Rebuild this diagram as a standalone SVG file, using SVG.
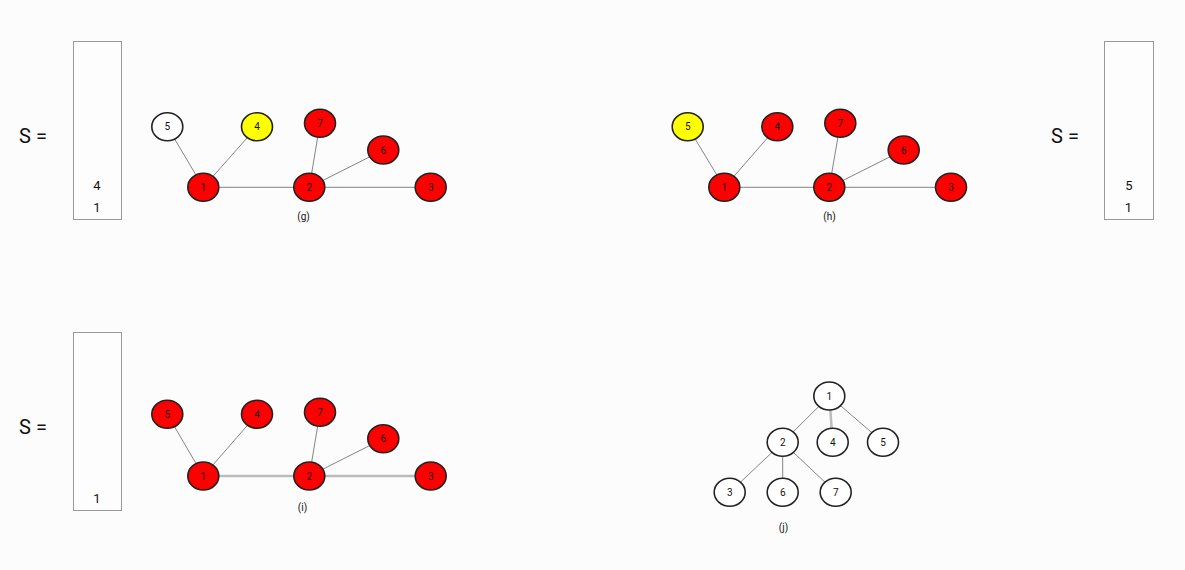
<svg xmlns="http://www.w3.org/2000/svg" width="1185" height="570" viewBox="0 0 1185 570">
<style>
text{font-family:Roboto,"Liberation Sans",sans-serif;fill:#111;text-anchor:middle;dominant-baseline:central}
.n ellipse{stroke:#222;stroke-width:1.6}
.r{fill:#ff0000}.w{fill:#fff}.y{fill:#ffff00}
.n text{font-size:10px}
.e line{stroke:#777;stroke-width:0.9}
.e line.t{stroke:#bbb;stroke-width:2.5}
.box{fill:#fdfdfd;stroke:#999;stroke-width:1}
.seq{font-size:20px}
.stk{font-size:13px}
.cap{font-size:10px}
</style>
<rect width="1185" height="570" fill="#fcfcfc"/>

<!-- Panel g -->
<text class="seq" x="33" y="136">S =</text>
<rect class="box" x="73.5" y="41.5" width="48" height="178"/>
<text class="stk" x="97" y="185.5">4</text>
<text class="stk" x="97" y="207">1</text>
<g class="e" id="edges-g">
<line x1="167.3" y1="126.7" x2="203.3" y2="187.3"/>
<line x1="257" y1="126.7" x2="203.3" y2="187.3"/>
<line x1="203.3" y1="187.3" x2="309.3" y2="187.3"/>
<line x1="320" y1="123.3" x2="309.3" y2="187.3"/>
<line x1="383.3" y1="150" x2="309.3" y2="187.3"/>
<line x1="309.3" y1="187.3" x2="430.7" y2="187.3"/>
</g>
<g class="n" id="g-n5"><ellipse class="w" cx="167.3" cy="126.7" rx="15.5" ry="14"/><text x="167.3" y="126.7">5</text></g>
<g class="n" id="g-n4"><ellipse class="y" cx="257" cy="126.7" rx="15.5" ry="14"/><text x="257" y="126.7">4</text></g>
<g class="n" id="g-n7"><ellipse class="r" cx="320" cy="123.3" rx="15.5" ry="14"/><text x="320" y="123.3">7</text></g>
<g class="n" id="g-n6"><ellipse class="r" cx="383.3" cy="150" rx="15.5" ry="14"/><text x="383.3" y="150">6</text></g>
<g class="n" id="g-n1"><ellipse class="r" cx="203.3" cy="187.3" rx="15.5" ry="14"/><text x="203.3" y="187.3">1</text></g>
<g class="n" id="g-n2"><ellipse class="r" cx="309.3" cy="187.3" rx="15.5" ry="14"/><text x="309.3" y="187.3">2</text></g>
<g class="n" id="g-n3"><ellipse class="r" cx="430.7" cy="187.3" rx="15.5" ry="14"/><text x="430.7" y="187.3">3</text></g>
<text class="cap" x="303.5" y="216.7">(g)</text>

<!-- Panel h -->
<g class="e" id="edges-h">
<line x1="687.7" y1="126.7" x2="724.3" y2="187.3"/>
<line x1="777.3" y1="126.7" x2="724.3" y2="187.3"/>
<line x1="724.3" y1="187.3" x2="829.3" y2="187.3"/>
<line x1="840.3" y1="123.3" x2="829.3" y2="187.3"/>
<line x1="903.7" y1="150" x2="829.3" y2="187.3"/>
<line x1="829.3" y1="187.3" x2="951" y2="187.3"/>
</g>
<g class="n" id="h-n5"><ellipse class="y" cx="687.7" cy="126.7" rx="15.5" ry="14"/><text x="687.7" y="126.7">5</text></g>
<g class="n" id="h-n4"><ellipse class="r" cx="777.3" cy="126.7" rx="15.5" ry="14"/><text x="777.3" y="126.7">4</text></g>
<g class="n" id="h-n7"><ellipse class="r" cx="840.3" cy="123.3" rx="15.5" ry="14"/><text x="840.3" y="123.3">7</text></g>
<g class="n" id="h-n6"><ellipse class="r" cx="903.7" cy="150" rx="15.5" ry="14"/><text x="903.7" y="150">6</text></g>
<g class="n" id="h-n1"><ellipse class="r" cx="724.3" cy="187.3" rx="15.5" ry="14"/><text x="724.3" y="187.3">1</text></g>
<g class="n" id="h-n2"><ellipse class="r" cx="829.3" cy="187.3" rx="15.5" ry="14"/><text x="829.3" y="187.3">2</text></g>
<g class="n" id="h-n3"><ellipse class="r" cx="951" cy="187.3" rx="15.5" ry="14"/><text x="951" y="187.3">3</text></g>
<text class="cap" x="829.5" y="216.7">(h)</text>
<text class="seq" x="1065" y="136">S =</text>
<rect class="box" x="1104.5" y="41.5" width="49" height="178"/>
<text class="stk" x="1129" y="185.5">5</text>
<text class="stk" x="1128.5" y="207">1</text>

<!-- Panel i -->
<text class="seq" x="33" y="426.5">S =</text>
<rect class="box" x="73.5" y="332.5" width="48" height="178"/>
<text class="stk" x="97" y="498.5">1</text>
<g class="e" id="edges-i">
<line x1="167.3" y1="414.3" x2="203.3" y2="476"/>
<line x1="257" y1="414.3" x2="203.3" y2="476"/>
<line class="t" x1="203.3" y1="476" x2="309.3" y2="476"/>
<line x1="320" y1="412.3" x2="309.3" y2="476"/>
<line x1="383.3" y1="438.7" x2="309.3" y2="476"/>
<line class="t" x1="309.3" y1="476" x2="430.7" y2="476"/>
</g>
<g class="n" id="i-n5"><ellipse class="r" cx="167.3" cy="414.3" rx="15.5" ry="14"/><text x="167.3" y="414.3">5</text></g>
<g class="n" id="i-n4"><ellipse class="r" cx="257" cy="414.3" rx="15.5" ry="14"/><text x="257" y="414.3">4</text></g>
<g class="n" id="i-n7"><ellipse class="r" cx="320" cy="412.3" rx="15.5" ry="14"/><text x="320" y="412.3">7</text></g>
<g class="n" id="i-n6"><ellipse class="r" cx="383.3" cy="438.7" rx="15.5" ry="14"/><text x="383.3" y="438.7">6</text></g>
<g class="n" id="i-n1"><ellipse class="r" cx="203.3" cy="476" rx="15.5" ry="14"/><text x="203.3" y="476">1</text></g>
<g class="n" id="i-n2"><ellipse class="r" cx="309.3" cy="476" rx="15.5" ry="14"/><text x="309.3" y="476">2</text></g>
<g class="n" id="i-n3"><ellipse class="r" cx="430.7" cy="476" rx="15.5" ry="14"/><text x="430.7" y="476">3</text></g>
<text class="cap" x="302.5" y="507.5">(i)</text>

<!-- Panel j -->
<g class="e" id="edges-j">
<line x1="829.3" y1="396" x2="782.7" y2="442.3"/>
<line class="t" x1="829.3" y1="396" x2="832.7" y2="442.3"/>
<line x1="829.3" y1="396" x2="883" y2="442.3"/>
<line x1="782.7" y1="442.3" x2="729.7" y2="492.3"/>
<line x1="782.7" y1="442.3" x2="782.7" y2="492.3"/>
<line x1="782.7" y1="442.3" x2="835.7" y2="492.3"/>
</g>
<g class="n" id="j-n1"><ellipse class="w" cx="829.3" cy="396" rx="15.5" ry="14"/><text x="829.3" y="396">1</text></g>
<g class="n" id="j-n2"><ellipse class="w" cx="782.7" cy="442.3" rx="15.5" ry="14"/><text x="782.7" y="442.3">2</text></g>
<g class="n" id="j-n4"><ellipse class="w" cx="832.7" cy="442.3" rx="15.5" ry="14"/><text x="832.7" y="442.3">4</text></g>
<g class="n" id="j-n5"><ellipse class="w" cx="883" cy="442.3" rx="15.5" ry="14"/><text x="883" y="442.3">5</text></g>
<g class="n" id="j-n3"><ellipse class="w" cx="729.7" cy="492.3" rx="15.5" ry="14"/><text x="729.7" y="492.3">3</text></g>
<g class="n" id="j-n6"><ellipse class="w" cx="782.7" cy="492.3" rx="15.5" ry="14"/><text x="782.7" y="492.3">6</text></g>
<g class="n" id="j-n7"><ellipse class="w" cx="835.7" cy="492.3" rx="15.5" ry="14"/><text x="835.7" y="492.3">7</text></g>
<text class="cap" x="783.5" y="527">(j)</text>
</svg>
